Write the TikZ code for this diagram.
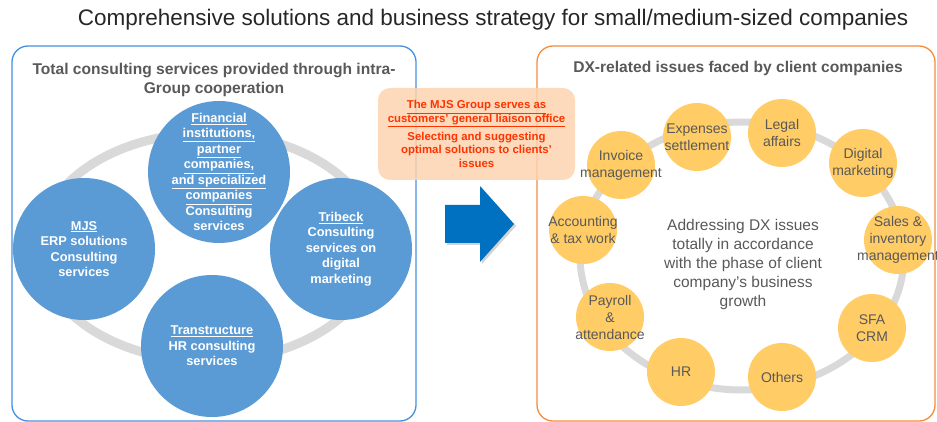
\documentclass[tikz,border=0pt]{standalone}
\usepackage{fontspec}
\setmainfont{Liberation Sans}
\usetikzlibrary{shadows}

\definecolor{titlegray}{RGB}{38,38,38}
\definecolor{textgray}{RGB}{89,89,89}
\definecolor{panelblue}{RGB}{70,145,220}
\definecolor{panelorange}{RGB}{245,140,60}
\definecolor{circblue}{RGB}{91,155,213}
\definecolor{circgold}{RGB}{255,204,102}
\definecolor{ringgray}{RGB}{217,217,217}
\definecolor{liaisonfill}{RGB}{252,211,175}
\definecolor{liaisonred}{RGB}{255,51,0}
\definecolor{arrowblue}{RGB}{0,112,192}

\begin{document}
\begin{tikzpicture}[x=1pt, y=-1pt,
    panel title/.style={text=textgray, align=center, font=\bfseries\fontsize{15.6}{19}\selectfont},
    blue node/.style={circle, fill=circblue, minimum size=142pt, inner sep=0pt},
    blue text/.style={text=white, align=center, font=\bfseries\fontsize{12.8}{15.5}\selectfont},
    issue node/.style={circle, fill=circgold, minimum size=68pt, inner sep=0pt},
    issue text/.style={text=textgray, align=center, font=\fontsize{14}{17}\selectfont}]

  \useasboundingbox (0,0) rectangle (937,422);

  \node[text=titlegray, font=\fontsize{22.5}{26}\selectfont] (title) at (493,20)
    {Comprehensive solutions and business strategy for small/medium-sized companies};

  % the two panels
  \draw[panelblue, line width=1.3pt, rounded corners=16pt] (12,46) rectangle (416,421);
  \draw[panelorange, line width=1.3pt, rounded corners=16pt] (537,46) rectangle (935,421);

  \node[panel title] (grouptitle) at (214,79.5) {Total consulting services provided through intra-\\Group cooperation};
  \node[panel title] (issuetitle) at (738,68) {DX-related issues faced by client companies};

  % group companies
  \draw[ringgray, line width=9pt] (208,247) ellipse [x radius=169, y radius=114];

  \node[blue node, label={[blue text]center:{\underline{Financial}\\\underline{institutions,}\\\underline{partner}\\\underline{companies,}\\\underline{and specialized}\\\underline{companies}\\Consulting\\services}}] (fin) at (219,172) {};
  \node[blue node, label={[blue text]center:{\underline{MJS}\\ERP solutions\\Consulting\\services}}] (mjs) at (84,249) {};
  \node[blue node, label={[blue text]center:{\underline{Tribeck}\\Consulting\\services on\\digital\\marketing}}] (tribeck) at (341,249) {};
  \node[blue node, label={[blue text]center:{\underline{Transtructure}\\HR consulting\\services}}] (trans) at (212,346) {};

  % client issues
  \draw[ringgray, line width=7pt] (742,256) ellipse [x radius=162, y radius=134];

  \node[issue node, label={[issue text]center:{Expenses\\settlement}}] (expenses) at (697,137) {};
  \node[issue node, label={[issue text]center:{Legal\\affairs}}] (legal) at (782,133) {};
  \node[issue node, label={[issue text]center:{Digital\\marketing}}] (digital) at (863,163) {};
  \node[issue node, label={[issue text]center:{Sales \&\\inventory\\management}}] (sales) at (898,240) {};
  \node[issue node, label={[issue text]center:{SFA\\CRM}}] (sfa) at (872,328) {};
  \node[issue node, label={[issue text]center:{Others}}] (others) at (782,377) {};
  \node[issue node, label={[issue text]center:{HR}}] (hr) at (681,372) {};
  \node[issue node, label={[issue text]center:{Payroll\\\&\\attendance}}] (payroll) at (610,317) {};
  \node[issue node, label={[issue text]center:{Accounting\\\& tax work}}] (accounting) at (583,230) {};
  \node[issue node, label={[issue text]center:{Invoice\\management}}] (invoice) at (621,165) {};

  \node[text=textgray, align=center, font=\fontsize{15.5}{19}\selectfont] (growth) at (743,264.5)
    {Addressing DX issues\\totally in accordance\\with the phase of client\\company’s business\\growth};

  % liaison box between the panels
  \node[fill=liaisonfill, fill opacity=.85, text opacity=1, rounded corners=12pt,
        minimum width=197pt, minimum height=92pt, text=liaisonred, align=center,
        font=\bfseries\fontsize{11.4}{13.3}\selectfont] (liaison) at (476.5,134)
    {\underline{The MJS Group serves as}\\\underline{customers’ general liaison office}\\[5pt]
     Selecting and suggesting\\optimal solutions to clients’\\issues};

  % block arrow
  \fill[arrowblue, drop shadow={shadow xshift=2pt, shadow yshift=-2pt, opacity=.35}]
    (445,205) -- (480,205) -- (480,186) -- (514,224) -- (480,262) -- (480,243) -- (445,243) -- cycle;
\end{tikzpicture}
\end{document}
